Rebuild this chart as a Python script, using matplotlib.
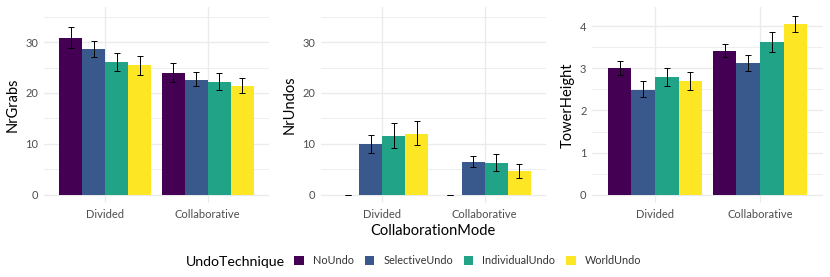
import numpy as np
import matplotlib.pyplot as plt
from matplotlib.patches import Patch
from matplotlib.ticker import MultipleLocator

modes = ["Divided", "Collaborative"]
techniques = ["NoUndo", "SelectiveUndo", "IndividualUndo", "WorldUndo"]
colors = ["#440154", "#39598C", "#20A386", "#FDE725"]

# values per technique: [Divided, Collaborative]
grabs_mean = [[30.8, 24.0], [28.6, 22.6], [26.1, 22.2], [25.4, 21.4]]
grabs_lo = [[28.8, 22.1], [27.0, 21.3], [24.4, 20.5], [23.6, 19.9]]
grabs_hi = [[32.9, 25.9], [30.3, 24.2], [27.9, 24.0], [27.2, 22.9]]

undos_mean = [[0.0, 0.0], [10.0, 6.5], [11.6, 6.3], [12.0, 4.6]]
undos_lo = [[0.0, 0.0], [8.1, 5.4], [9.1, 4.6], [9.7, 3.3]]
undos_hi = [[0.0, 0.0], [11.8, 7.6], [14.1, 7.9], [14.4, 6.0]]

tower_mean = [[3.00, 3.42], [2.49, 3.12], [2.79, 3.62], [2.70, 4.04]]
tower_lo = [[2.83, 3.27], [2.32, 2.94], [2.58, 3.38], [2.48, 3.85]]
tower_hi = [[3.18, 3.58], [2.69, 3.32], [3.01, 3.87], [2.92, 4.23]]

plt.rcParams["font.family"] = ["Lato", "DejaVu Sans"]

fig = plt.figure(figsize=(8.3, 2.77), dpi=100)
boxes = [
    [44 / 830, 74 / 277, 225 / 830, 196 / 277],
    [321 / 830, 74 / 277, 225 / 830, 196 / 277],
    [592 / 830, 74 / 277, 231 / 830, 196 / 277],
]
panels = [
    ("NrGrabs", grabs_mean, grabs_lo, grabs_hi, (-1.65, 36.9), 10),
    ("NrUndos", undos_mean, undos_lo, undos_hi, (-1.65, 36.9), 10),
    ("TowerHeight", tower_mean, tower_lo, tower_hi, (-0.19, 4.45), 1),
]

x = np.arange(1, len(modes) + 1)
width = 0.225
for box, (label, mean, lo, hi, ylim, step) in zip(boxes, panels):
    ax = fig.add_axes(box)
    for i, tech in enumerate(techniques):
        pos = x + (i - 1.5) * width
        m = np.array(mean[i])
        ax.bar(pos, m, width=width, color=colors[i], zorder=2)
        err = [m - np.array(lo[i]), np.array(hi[i]) - m]
        ax.errorbar(pos, m, yerr=err, fmt="none", ecolor="black",
                    elinewidth=0.7, capsize=2.2, capthick=0.7, zorder=3)
    ax.set_xlim(0.4, 2.6)
    ax.set_ylim(*ylim)
    ax.set_xticks(x)
    ax.set_xticklabels(modes)
    ax.yaxis.set_major_locator(MultipleLocator(step))
    ax.yaxis.set_minor_locator(MultipleLocator(step / 2))
    ax.grid(True, which="major", color="#EBEBEB", linewidth=1.0, zorder=0)
    ax.grid(True, which="minor", axis="y", color="#EBEBEB", linewidth=0.6, zorder=0)
    ax.set_axisbelow(True)
    for s in ax.spines.values():
        s.set_visible(False)
    ax.tick_params(which="both", length=0, labelsize=8, labelcolor="#4D4D4D", pad=4)
    ax.set_ylabel(label, fontsize=10.5, labelpad=4)

fig.text(433 / 830, 1 - 231 / 277, "CollaborationMode", fontsize=10.5,
         ha="center", va="center")

fig.text(186 / 830, 1 - 262 / 277, "UndoTechnique", fontsize=10.2,
         ha="left", va="center")
handles = [Patch(facecolor=c, edgecolor="none") for c in colors]
fig.legend(handles, techniques, loc="center left", ncol=4,
           bbox_to_anchor=(289 / 830, 1 - 261 / 277), frameon=False,
           fontsize=7.8, labelcolor="#333333", handlelength=0.9, handleheight=0.9,
           handletextpad=0.8, columnspacing=1.0, borderpad=0)

fig.savefig("out.png", dpi=100)
